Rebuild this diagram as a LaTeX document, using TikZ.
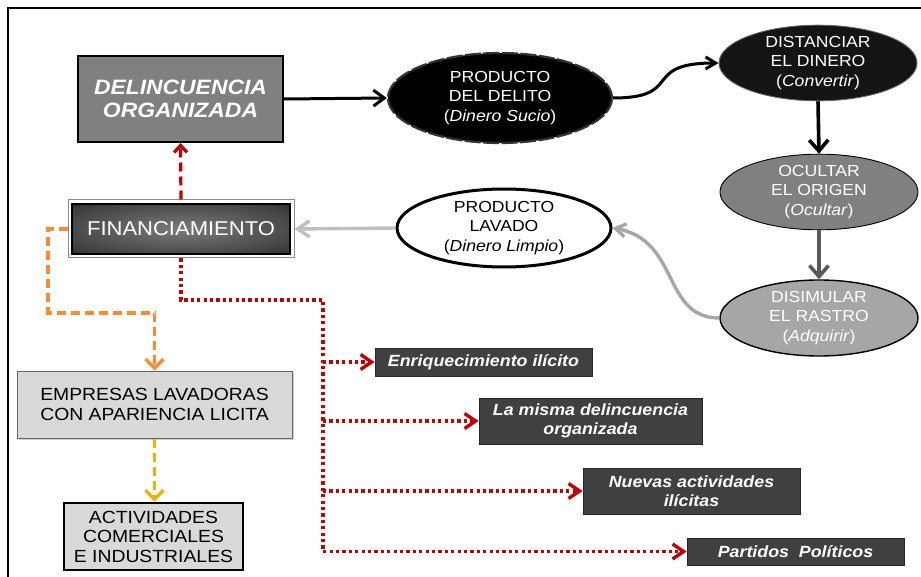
\documentclass[tikz,border=0pt]{standalone}
\usepackage{fontspec}
\setmainfont[FakeStretch=1.1]{Liberation Sans}
\usetikzlibrary{arrows.meta,shapes.geometric,shadows}
\definecolor{dred}{RGB}{192,0,0}
\definecolor{orng}{RGB}{247,140,50}
\definecolor{yel}{RGB}{238,178,0}
\definecolor{dbox}{RGB}{64,64,64}
\definecolor{lgray}{RGB}{217,217,217}
\definecolor{midgray}{RGB}{128,128,128}
\definecolor{lightg}{RGB}{166,166,166}
\definecolor{paleg}{RGB}{191,191,191}
\definecolor{darkg}{RGB}{89,89,89}
\pgfdeclareradialshading{finshade}{\pgfpoint{0bp}{0bp}}{color(0bp)=(black!52); color(30bp)=(black!75); color(50bp)=(black!95); color(72bp)=(black)}
\begin{document}
\begin{tikzpicture}[x=1pt,y=-1pt,
  ell/.style={ellipse, inner sep=0pt, align=center, font=\fontsize{16}{19.5}\selectfont},
  darkbox/.style={rectangle, fill=dbox, draw=black!85, line width=0.8pt, text=white,
    font=\fontsize{16.2}{19.5}\selectfont\bfseries\itshape, align=center, inner sep=0pt,
    drop shadow={shadow xshift=1.2pt, shadow yshift=-1.2pt, fill=black!35, opacity=0.6}},
  greybox/.style={rectangle, fill=lgray, align=center, inner sep=0pt,
    font=\fontsize{17.6}{20}\selectfont},
  blkarrow/.style={line width=3pt, -{Straight Barb[length=11pt,width=16pt]}},
  reddash/.style={draw=dred, line width=3.2pt, dash pattern=on 9pt off 5pt,
    -{Straight Barb[length=7pt,width=13pt]}},
  reddot/.style={draw=dred, line width=3.4pt, dash pattern=on 3.2pt off 3.2pt,
    -{Straight Barb[length=11pt,width=15pt]}},
  orangedash/.style={draw=orng, line width=3.4pt, dash pattern=on 9pt off 5pt,
    -{Straight Barb[length=9pt,width=18pt]}},
  yeldash/.style={draw=yel, line width=3.4pt, dash pattern=on 9pt off 5pt,
    -{Straight Barb[length=9pt,width=18pt]}}
]
\useasboundingbox (0,0) rectangle (921,577);
% frame
\draw[line width=2.2pt] (8,600) -- (8,8) -- (940,8);

% left column
\node[rectangle, fill=midgray, draw=black, line width=2.2pt, minimum width=205pt, minimum height=86pt,
  inner sep=0pt, align=center, text=white, font=\fontsize{20.8}{23.5}\selectfont\bfseries\itshape]
  (delin) at (180.5,99) {DELINCUENCIA\\ORGANIZADA};

\node[rectangle, fill=white, draw=black!45, line width=1pt, minimum width=226pt, minimum height=58pt,
  inner sep=0pt] (fin) at (181,229) {};
\node[rectangle, draw=black, line width=1.4pt, shading=finshade,
  minimum width=218pt, minimum height=50pt, inner sep=0pt, text=white,
  font=\fontsize{20}{24}\selectfont] (finin) at (fin.center) {FINANCIAMIENTO};

\node[greybox, draw=black!60, line width=1pt, minimum width=275pt, minimum height=67pt,
  drop shadow={shadow xshift=1.5pt, shadow yshift=-1.5pt, fill=black!30, opacity=0.6}]
  (emp) at (154.5,404.5) {EMPRESAS LAVADORAS\\CON APARIENCIA LICITA};

\node[greybox, draw=black, line width=2.6pt, minimum width=179pt, minimum height=67pt,
  font=\fontsize{17.6}{19.5}\selectfont]
  (act) at (153.5,536.5) {ACTIVIDADES\\COMERCIALES\\E INDUSTRIALES};

% ellipses
\node[ell, fill=black, draw=black!80, line width=2.2pt, dash pattern=on 16pt off 2.5pt, text=white,
  minimum width=224pt, minimum height=90pt]
  (prod) at (500,98) {PRODUCTO\\DEL DELITO\\(\textit{Dinero Sucio})};
\node[ell, fill=black!92, draw=black!60, line width=0.9pt, text=white,
  minimum width=198pt, minimum height=74pt]
  (dist) at (818,63) {DISTANCIAR\\EL DINERO\\(\textit{Convertir})};
\node[ell, fill=midgray, draw=black, line width=0.9pt, text=white,
  minimum width=198pt, minimum height=72pt]
  (ocult) at (819,192) {OCULTAR\\EL ORIGEN\\(\textit{Ocultar})};
\node[ell, fill=lightg, draw=black, line width=1.4pt, text=white,
  minimum width=198pt, minimum height=76pt]
  (disim) at (819,318) {DISIMULAR\\EL RASTRO\\(\textit{Adquirir})};
\node[ell, fill=white, draw=black, line width=3pt, text=black,
  minimum width=214pt, minimum height=78pt]
  (lav) at (504,228) {PRODUCTO\\LAVADO\\(\textit{Dinero Limpio})};

% dark boxes
\node[darkbox, minimum width=217pt, minimum height=28pt] (enr) at (483.5,362) {Enriquecimiento ilícito};
\node[darkbox, minimum width=223pt, minimum height=46pt] (misma) at (590.5,421) {La misma delincuencia\\organizada};
\node[darkbox, minimum width=217pt, minimum height=46pt] (nuev) at (691.5,491) {Nuevas actividades\\ilícitas};
\node[darkbox, minimum width=217pt, minimum height=27pt] (part) at (795.5,551.5) {Partidos\ \ Políticos};

% connectors
\draw[blkarrow] (delin.east) -- (prod.west);
\draw[line width=3pt, -{Straight Barb[length=10pt,width=12pt]}]
  (prod.east) .. controls (685,98) and (640,63) .. (dist.west);
\draw[line width=3.6pt, -{Straight Barb[length=11pt,width=19pt]}] (dist.south) -- (ocult.north);
\draw[line width=3.6pt, draw=darkg, -{Straight Barb[length=11pt,width=19pt]}] (ocult.south) -- (disim.north);
\draw[line width=3.4pt, draw=lightg, -{Straight Barb[length=10pt,width=13pt]}]
  (disim.west) .. controls (662,318) and (680,240) .. (lav.east);
\draw[line width=3.4pt, draw=paleg, -{Straight Barb[length=12pt,width=16pt]}] (lav.west) -- (fin.east);
\draw[reddash] (fin.north) -- (delin.south);

\coordinate (o1) at (48,313);
\draw[orangedash] (fin.west) -| (o1) -| (emp.north);
\draw[yeldash] (emp.south) -- (emp.south |- act.north);

\coordinate (r1) at (323,300);
\draw[reddot] (fin.south) |- (r1) |- (part.west);
\draw[reddot] (r1 |- enr.west) -- (enr.west);
\draw[reddot] (r1 |- misma.west) -- (misma.west);
\draw[reddot] (r1 |- nuev.west) -- (nuev.west);
\end{tikzpicture}
\end{document}
